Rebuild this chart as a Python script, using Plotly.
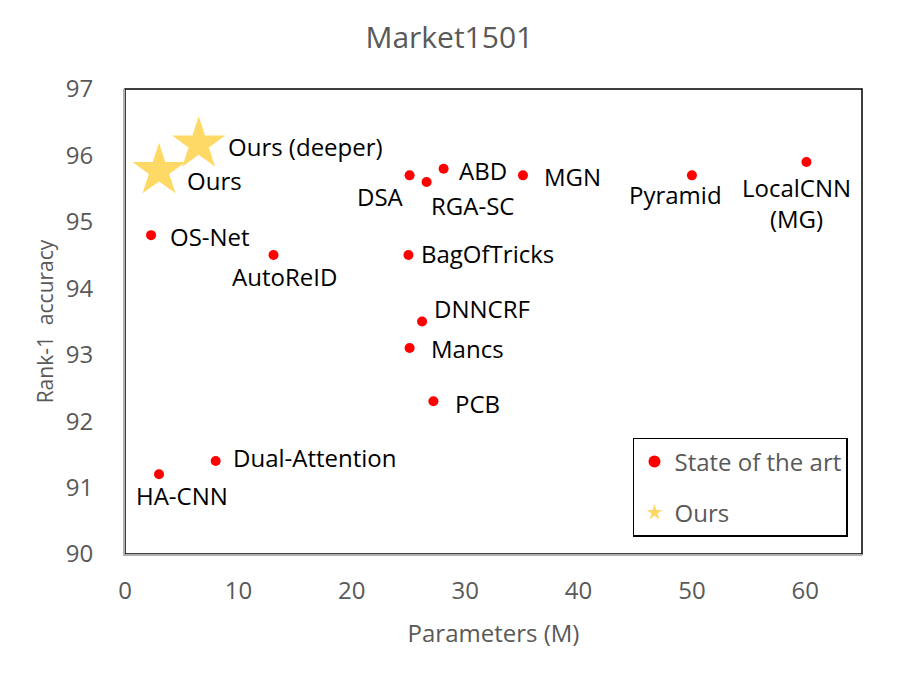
import plotly.graph_objects as go

# state-of-the-art methods: parameters (M) and rank-1 accuracy
sota_names = ['OS-Net', 'AutoReID', 'DSA', 'RGA-SC', 'ABD', 'MGN', 'Pyramid',
              'LocalCNN<br>(MG)', 'BagOfTricks', 'DNNCRF', 'Mancs', 'PCB',
              'Dual-Attention', 'HA-CNN']
sota_params = [2.3, 13.1, 25.1, 26.6, 28.1, 35.1, 50.0, 60.1, 25.0, 26.2, 25.1, 27.2, 8.0, 3.0]
sota_rank1 = [94.8, 94.5, 95.7, 95.6, 95.8, 95.7, 95.7, 95.9, 94.5, 93.5, 93.1, 92.3, 91.4, 91.2]

ours_names = ['Ours', 'Ours (deeper)']
ours_params = [3.0, 6.5]
ours_rank1 = [95.77, 96.17]

# label placement (anchor, xshift, yshift) per point
sota_lbl = [('left', 17, -1), ('center', 11, -21), ('right', -4, -21), ('left', 2, -23),
            ('left', 13, -2), ('left', 19, -1), ('center', -16, -19), ('center', -10, -41),
            ('left', 11, 2), ('left', 10, 13), ('left', 19, 0), ('left', 20, -2),
            ('left', 15, 4), ('center', 23, -21)]
ours_lbl = [('left', 26, -10), ('left', 27, -2)]

grey = '#595959'
fnt = 'Open Sans, sans-serif'

fig = go.Figure()

fig.add_trace(go.Scatter(
    x=sota_params, y=sota_rank1, mode='markers', name='State of the art',
    legendgroup='a',
    marker=dict(size=10, color='#FF0000')
))

fig.add_trace(go.Scatter(
    x=ours_params, y=ours_rank1, mode='markers', name='Ours',
    legendgroup='b',
    marker=dict(size=40, color='#FFD966', symbol='star')
))

for names, xs, ys, lbl in [(sota_names, sota_params, sota_rank1, sota_lbl),
                           (ours_names, ours_params, ours_rank1, ours_lbl)]:
    for n, x, y, (anc, dx, dy) in zip(names, xs, ys, lbl):
        fig.add_annotation(x=x, y=y, text=n, showarrow=False, xanchor=anc,
                           yanchor='middle', xshift=dx, yshift=dy,
                           font=dict(size=24, color='black', family=fnt))

# black frame around plot area (axis lines drawn grey on top)
fig.add_shape(type='rect', xref='paper', yref='paper', x0=0, y0=0, x1=1, y1=1,
              line=dict(color='black', width=1.5), layer='below')

fig.update_layout(
    width=897, height=677,
    margin=dict(l=117, r=43, t=81, b=131),
    plot_bgcolor='white', paper_bgcolor='white',
    title=dict(text='Market1501', x=0.492, xanchor='center', y=0.957, yanchor='middle',
               font=dict(size=30, color=grey, family=fnt)),
    font=dict(family=fnt, color=grey),
    legend=dict(x=0.981, y=0.037, xanchor='right', yanchor='bottom',
                bordercolor='black', borderwidth=1.5, bgcolor='white',
                itemsizing='constant', tracegroupgap=17,
                font=dict(size=24, color=grey, family=fnt)),
)

fig.update_xaxes(range=[0, 65], dtick=10, showgrid=False, zeroline=False,
                 showline=True, linecolor='#B0B0B0', linewidth=2,
                 tickfont=dict(size=24, color=grey), ticks='', ticklabelstandoff=14,
                 title=dict(text='Parameters (M)', font=dict(size=24, color=grey), standoff=20))
fig.update_yaxes(range=[90, 97], dtick=1, showgrid=False, zeroline=False,
                 showline=True, linecolor='#B0B0B0', linewidth=2,
                 tickfont=dict(size=24, color=grey), ticks='', ticklabelstandoff=25,
                 title=dict(text='Rank-1  accuracy', font=dict(size=21, color=grey), standoff=6))

fig.write_html('out.html')
